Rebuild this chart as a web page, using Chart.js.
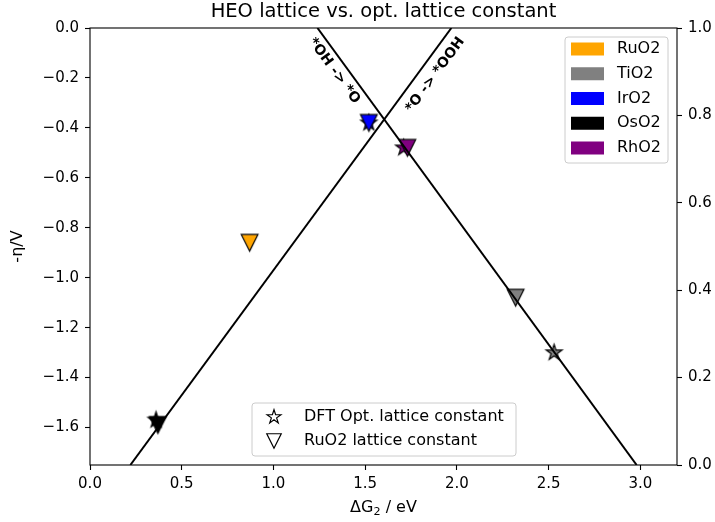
<!DOCTYPE html>
<html>
<head>
<meta charset="utf-8">
<script src="https://cdn.jsdelivr.net/npm/chart.js@4.4.1/dist/chart.umd.min.js"></script>
<style>
  html, body { margin: 0; padding: 0; background: #fff; }
  canvas { display: block; }
</style>
</head>
<body>
<canvas id="c" width="715" height="522" style="width:715px;height:522px"></canvas>
<script>
// Oxides and their colours
const oxides = ['RuO2', 'TiO2', 'IrO2', 'OsO2', 'RhO2'];
const oxideColors = ['orange', 'gray', 'blue', 'black', 'purple'];

// DFT-optimised lattice constant (star markers); RuO2 coincides with its own lattice
const optDG2 = [null, 2.53, 1.52, 0.36, 1.71];
const optEta = [null, -1.30, -0.38, -1.57, -0.48];

// RuO2 lattice constant (down-triangle markers)
const ruDG2 = [0.87, 2.32, 1.52, 0.37, 1.73];
const ruEta = [-0.86, -1.08, -0.38, -1.59, -0.48];

// Limiting-step lines
const ohLineX = [1.24, 2.98];
const ohLineY = [0.0, -1.75];
const oLineX = [0.22, 1.97];
const oLineY = [-1.75, 0.0];

// Line labels
const stepLabels = ['*OH -> *O', '*O -> *OOH'];
const stepLabelX = [1.331, 1.882];
const stepLabelY = [-0.172, -0.188];

// Ticks
const xTicks = [0.0, 0.5, 1.0, 1.5, 2.0, 2.5, 3.0];
const yTicks = [0.0, -0.2, -0.4, -0.6, -0.8, -1.0, -1.2, -1.4, -1.6];
const y2Ticks = [0.0, 0.2, 0.4, 0.6, 0.8, 1.0];

const FONT = "'DejaVu Sans', sans-serif";
const TICK_PX = 15;
const LABEL_PX = 16;
const LEGEND_PX = 16;

function fmt(v) {
  const s = (Math.abs(v) < 1e-9 ? 0 : v).toFixed(1);
  return s.replace('-', '\u2212');
}

// Marker outline paths
function markerPath(g, shape, cx, cy, size) {
  const r = size / 2;
  g.beginPath();
  if (shape === 'star') {
    const inner = r * 0.381966;
    for (let i = 0; i < 10; i++) {
      const rr = i % 2 === 0 ? r : inner;
      const a = -Math.PI / 2 + i * Math.PI / 5;
      const px = cx + rr * Math.cos(a), py = cy + rr * Math.sin(a);
      if (i === 0) g.moveTo(px, py); else g.lineTo(px, py);
    }
  } else {
    g.moveTo(cx, cy + r);
    g.lineTo(cx - r, cy - r);
    g.lineTo(cx + r, cy - r);
  }
  g.closePath();
}

function paintMarker(g, shape, fill, cx, cy, size) {
  markerPath(g, shape, cx, cy, size);
  g.fillStyle = fill;
  g.fill();
  g.lineWidth = 1.2;
  g.lineJoin = 'miter';
  g.strokeStyle = '#000';
  g.stroke();
}

// Marker images used as point styles
function makeMarker(shape, fill, size) {
  const dim = Math.ceil(size + 6);
  const cv = document.createElement('canvas');
  cv.width = dim; cv.height = dim;
  paintMarker(cv.getContext('2d'), shape, fill, dim / 2, dim / 2, size);
  return cv;
}

const MARK = 16.7;
const starMarks = oxideColors.map(c => makeMarker('star', c, MARK));
const triMarks = oxideColors.map(c => makeMarker('tri', c, MARK));

const pts = (xs, ys) => xs.map((x, i) => ({ x: x, y: ys[i] }));

function fixedTicks(list) {
  return function (scale) { scale.ticks = list.map(v => ({ value: v })); };
}

function drawBox(ctx, x, y, w, h) {
  const r = 3;
  ctx.save();
  ctx.beginPath();
  ctx.moveTo(x + r, y);
  ctx.arcTo(x + w, y, x + w, y + h, r);
  ctx.arcTo(x + w, y + h, x, y + h, r);
  ctx.arcTo(x, y + h, x, y, r);
  ctx.arcTo(x, y, x + w, y, r);
  ctx.closePath();
  ctx.fillStyle = 'rgba(255,255,255,0.8)';
  ctx.fill();
  ctx.strokeStyle = '#cccccc';
  ctx.lineWidth = 1;
  ctx.stroke();
  ctx.restore();
}

const decorations = {
  id: 'decorations',
  beforeDraw(chart) {
    const ctx = chart.ctx;
    ctx.save();
    ctx.fillStyle = '#fff';
    ctx.fillRect(0, 0, chart.width, chart.height);
    ctx.restore();
  },
  afterDatasetsDraw(chart) {
    const ctx = chart.ctx;
    const a = chart.chartArea;
    const xs = chart.scales.x, ys = chart.scales.y;
    ctx.save();

    // axes frame
    ctx.strokeStyle = '#000';
    ctx.lineWidth = 1.1;
    ctx.strokeRect(a.left, a.top, a.right - a.left, a.bottom - a.top);

    // step labels along the lines
    const lines = [[ohLineX, ohLineY], [oLineX, oLineY]];
    ctx.fillStyle = '#000';
    ctx.font = 'bold 14px ' + FONT;
    ctx.textAlign = 'center';
    ctx.textBaseline = 'middle';
    stepLabels.forEach((t, i) => {
      const [lx, ly] = lines[i];
      const dx = xs.getPixelForValue(lx[1]) - xs.getPixelForValue(lx[0]);
      const dy = ys.getPixelForValue(ly[1]) - ys.getPixelForValue(ly[0]);
      let ang = Math.atan2(dy, dx);
      if (ang > Math.PI / 2) ang -= Math.PI;
      if (ang < -Math.PI / 2) ang += Math.PI;
      ctx.save();
      ctx.translate(xs.getPixelForValue(stepLabelX[i]), ys.getPixelForValue(stepLabelY[i]));
      ctx.rotate(ang);
      ctx.fillText(t, 0, 0);
      ctx.restore();
    });

    // title
    const cx = (a.left + a.right) / 2;
    ctx.font = '19.5px ' + FONT;
    ctx.textAlign = 'center';
    ctx.textBaseline = 'alphabetic';
    ctx.fillText('HEO lattice vs. opt. lattice constant', cx, 17);

    // x axis title with subscript
    ctx.font = LABEL_PX + 'px ' + FONT;
    const p1 = '\u0394G', p3 = ' / eV';
    const w1 = ctx.measureText(p1).width, w3 = ctx.measureText(p3).width;
    ctx.font = (LABEL_PX * 0.7) + 'px ' + FONT;
    const w2 = ctx.measureText('2').width;
    const sx = cx - (w1 + w2 + w3) / 2;
    ctx.textAlign = 'left';
    ctx.font = LABEL_PX + 'px ' + FONT;
    ctx.fillText(p1, sx, 512);
    ctx.font = (LABEL_PX * 0.7) + 'px ' + FONT;
    ctx.fillText('2', sx + w1, 515);
    ctx.font = LABEL_PX + 'px ' + FONT;
    ctx.fillText(p3, sx + w1 + w2, 512);

    // y axis title
    ctx.save();
    ctx.translate(18, (a.top + a.bottom) / 2);
    ctx.rotate(-Math.PI / 2);
    ctx.textAlign = 'center';
    ctx.textBaseline = 'middle';
    ctx.fillText('-\u03b7/V', 0, 0);
    ctx.restore();

    // colour legend (top right)
    drawBox(ctx, 565, 37, 103, 126);
    oxides.forEach((name, i) => {
      const ry = 49 + i * 24.75;
      ctx.fillStyle = oxideColors[i];
      ctx.fillRect(571, ry - 6.5, 33, 13);
      ctx.fillStyle = '#000';
      ctx.font = LEGEND_PX + 'px ' + FONT;
      ctx.textAlign = 'left';
      ctx.textBaseline = 'middle';
      ctx.fillText(name, 617, ry);
    });

    // marker legend (bottom)
    drawBox(ctx, 252, 403, 264, 53);
    const mk = [['star', 'DFT Opt. lattice constant', 417], ['tri', 'RuO2 lattice constant', 441]];
    mk.forEach(([shape, label, ry]) => {
      paintMarker(ctx, shape, '#fff', 274, ry, 14.5);
      ctx.fillStyle = '#000';
      ctx.font = LEGEND_PX + 'px ' + FONT;
      ctx.textAlign = 'left';
      ctx.textBaseline = 'middle';
      ctx.fillText(label, 304, ry);
    });

    ctx.restore();
  }
};

const tickGrid = {
  display: true,
  drawOnChartArea: false,
  drawTicks: true,
  tickLength: 5,
  tickWidth: 1.1,
  tickColor: '#000'
};
const tickFont = { family: FONT, size: TICK_PX };

new Chart(document.getElementById('c'), {
  type: 'scatter',
  data: {
    datasets: [
      {
        data: pts(ohLineX, ohLineY), showLine: true, borderColor: '#000',
        borderWidth: 2, pointRadius: 0, fill: false
      },
      {
        data: pts(oLineX, oLineY), showLine: true, borderColor: '#000',
        borderWidth: 2, pointRadius: 0, fill: false
      },
      {
        data: pts(ruDG2, ruEta), showLine: false,
        pointStyle: ctx => triMarks[ctx.dataIndex], pointRadius: 9
      },
      {
        data: pts(optDG2, optEta), showLine: false,
        pointStyle: ctx => starMarks[ctx.dataIndex], pointRadius: 9
      }
    ]
  },
  options: {
    responsive: false,
    devicePixelRatio: 1,
    animation: false,
    events: [],
    layout: { padding: { top: 28, left: 0, right: 0, bottom: 0 } },
    plugins: { legend: { display: false }, title: { display: false }, tooltip: { enabled: false } },
    scales: {
      x: {
        type: 'linear', min: 0, max: 3.2,
        afterBuildTicks: fixedTicks(xTicks),
        afterFit(s) { s.height = 57; },
        border: { display: false },
        grid: tickGrid,
        ticks: { font: tickFont, color: '#000', padding: 5, maxRotation: 0, callback: v => fmt(v) }
      },
      y: {
        type: 'linear', position: 'left', min: -1.75, max: 0,
        afterBuildTicks: fixedTicks(yTicks),
        afterFit(s) { s.width = 90; },
        border: { display: false },
        grid: tickGrid,
        ticks: { font: tickFont, color: '#000', padding: 6, callback: v => fmt(v) }
      },
      y2: {
        type: 'linear', position: 'right', min: 0, max: 1,
        afterBuildTicks: fixedTicks(y2Ticks),
        afterFit(s) { s.width = 38; },
        border: { display: false },
        grid: tickGrid,
        ticks: { font: tickFont, color: '#000', padding: 6, callback: v => fmt(v) }
      }
    }
  },
  plugins: [decorations]
});
</script>
</body>
</html>
